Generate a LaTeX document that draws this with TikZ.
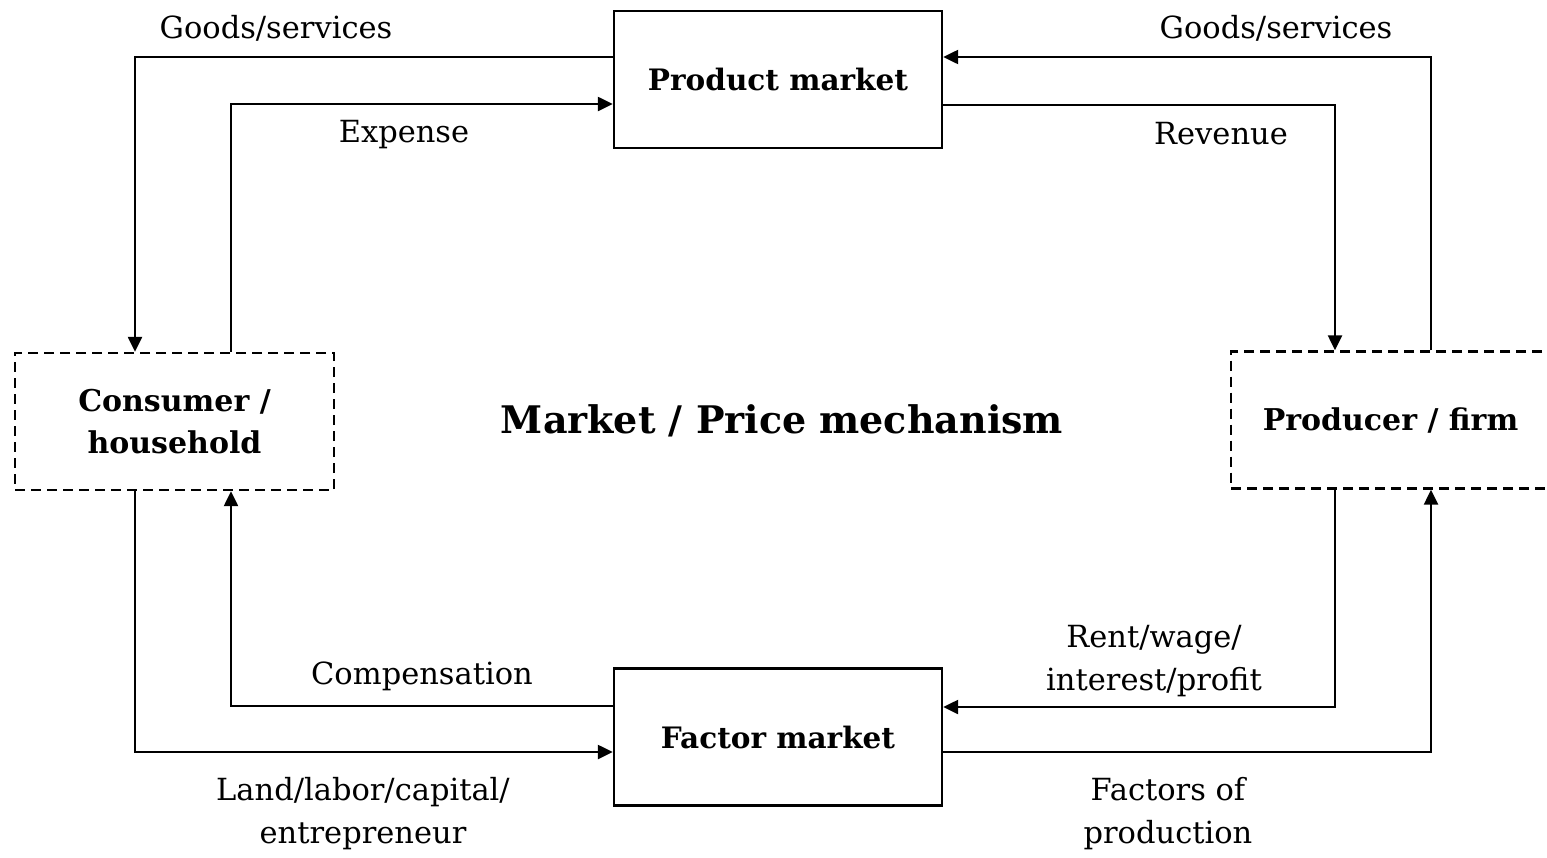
\documentclass[tikz,border=0pt]{standalone}
\usepackage{fontspec}
\setmainfont{DejaVu Serif}
\usetikzlibrary{arrows.meta}
\begin{document}
\begin{tikzpicture}[x=1pt,y=-1pt,
  solidbox/.style={draw,line width=2.4pt,minimum width=328pt,minimum height=137pt,inner sep=0pt,font=\fontsize{29.5}{35}\selectfont\bfseries},
  dashbox/.style={draw,line width=2.4pt,dash pattern=on 10pt off 6pt,minimum width=319pt,minimum height=137pt,inner sep=0pt,align=center,font=\fontsize{30}{42}\selectfont\bfseries},
  flow/.style={line width=2.4pt,-{Triangle[length=15pt,width=14pt]}},
  lbl/.style={inner sep=0pt,align=center,font=\fontsize{30.5}{43}\selectfont},
  title/.style={inner sep=0pt,font=\fontsize{38}{46}\selectfont\bfseries}
]
\useasboundingbox (0,0) rectangle (1547,857);
\node[solidbox] (pm) at (778,79.5) {Product market};
\node[solidbox] (fm) at (778,737) {Factor market};
\node[dashbox] (ch) at (174.5,421.5) {Consumer /\\household};
\node[dashbox] (pf) at (1390.5,420) {Producer / firm};
\node[title] (mt) at (782,421) {Market / Price mechanism};
% top left
\draw[flow] ([yshift=22.5pt]pm.west) -| ([xshift=-39.5pt]ch.north);
\draw[flow] ([xshift=56.5pt]ch.north) |- ([yshift=-24.5pt]pm.west);
% top right
\draw[flow] ([xshift=40.5pt]pf.north) |- ([yshift=22.5pt]pm.east);
\draw[flow] ([yshift=-25.5pt]pm.east) -| ([xshift=-55.5pt]pf.north);
% bottom left
\draw[flow] ([yshift=31pt]fm.west) -| ([xshift=56.5pt]ch.south);
\draw[flow] ([xshift=-39.5pt]ch.south) |- ([yshift=-15pt]fm.west);
% bottom right
\draw[flow] ([xshift=-55.5pt]pf.south) |- ([yshift=30pt]fm.east);
\draw[flow] ([yshift=-15pt]fm.east) -| ([xshift=40.5pt]pf.south);
% labels
\node[lbl] (l1) at (276,28) {Goods/services};
\node[lbl] (l2) at (404,135) {Expense};
\node[lbl] (l3) at (1276,28) {Goods/services};
\node[lbl] (l4) at (1221,134) {Revenue};
\node[lbl] (l5) at (422,676) {Compensation};
\node[lbl] (l6) at (1154,661) {Rent/wage/\\interest/profit};
\node[lbl] (l7) at (363,814) {Land/labor/capital/\\entrepreneur};
\node[lbl] (l8) at (1168,814) {Factors of\\production};
\end{tikzpicture}
\end{document}
